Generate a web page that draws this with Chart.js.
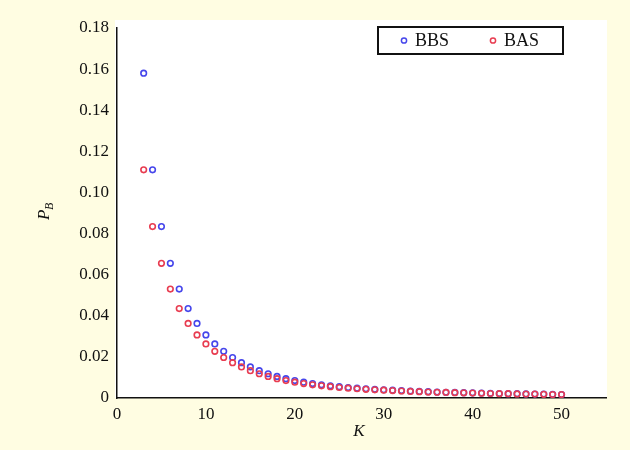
<!DOCTYPE html>
<html>
<head>
<meta charset="utf-8">
<script src="https://cdn.jsdelivr.net/npm/chart.js@4.4.0/dist/chart.umd.min.js"></script>
<style>
    html, body { margin: 0; padding: 0; background: #fffde2; }
    #wrap { width: 630px; height: 450px; }
</style>
</head>
<body>
<div id="wrap"><canvas id="pbChart" width="630" height="450"></canvas></div>
<script>
// P_B versus K

const kValues = [3, 4, 5, 6, 7, 8, 9, 10, 11, 12, 13, 14, 15, 16, 17, 18, 19, 20,
    21, 22, 23, 24, 25, 26, 27, 28, 29, 30, 31, 32, 33, 34, 35, 36, 37, 38, 39, 40,
    41, 42, 43, 44, 45, 46, 47, 48, 49, 50];

const bbsValues = [0.158, 0.111, 0.0834, 0.0655, 0.0530, 0.0435, 0.0363, 0.0307, 0.0263,
    0.0227, 0.0197, 0.0172, 0.0151, 0.0133, 0.0118, 0.0105, 0.0094, 0.0085, 0.0077,
    0.0070, 0.0064, 0.0059, 0.0055, 0.0051, 0.0048, 0.0045, 0.0042, 0.0040, 0.0038,
    0.0036, 0.0034, 0.0032, 0.0031, 0.0029, 0.0028, 0.0027, 0.0026, 0.0025, 0.0024,
    0.0023, 0.0022, 0.0021, 0.0021, 0.0020, 0.0019, 0.0019, 0.0018, 0.0017];

const basValues = [0.111, 0.0834, 0.0655, 0.0530, 0.0435, 0.0363, 0.0307, 0.0263, 0.0227,
    0.0197, 0.0172, 0.0151, 0.0133, 0.0118, 0.0105, 0.0094, 0.0085, 0.0077, 0.0070,
    0.0064, 0.0059, 0.0055, 0.0051, 0.0048, 0.0045, 0.0042, 0.0040, 0.0038, 0.0036,
    0.0034, 0.0032, 0.0031, 0.0029, 0.0028, 0.0027, 0.0026, 0.0025, 0.0024, 0.0023,
    0.0022, 0.0021, 0.0021, 0.0020, 0.0019, 0.0019, 0.0018, 0.0017, 0.0017];

const xTicks = [0, 10, 20, 30, 40, 50];
const yTicks = [0, 0.02, 0.04, 0.06, 0.08, 0.10, 0.12, 0.14, 0.16, 0.18];

const blue = 'rgb(70, 70, 235)';
const red = 'rgb(232, 60, 80)';
const serif = '"Liberation Serif", "Times New Roman", serif';

const toPoints = (xs, ys) => xs.map((x, i) => ({ x: x, y: ys[i] }));

// white plot panel behind the marks
const panelPlugin = {
    id: 'panel',
    beforeDraw(chart) {
        const { ctx, chartArea } = chart;
        ctx.save();
        ctx.fillStyle = '#ffffff';
        ctx.fillRect(chartArea.left - 2, chartArea.top - 8,
            chartArea.right - chartArea.left + 3, chartArea.bottom - chartArea.top + 8);
        ctx.restore();
    }
};

// axis titles (P with subscript B) and boxed legend
const labelPlugin = {
    id: 'labels',
    afterDraw(chart) {
        const { ctx, chartArea } = chart;
        ctx.save();
        ctx.fillStyle = '#111';
        ctx.textBaseline = 'middle';

        ctx.font = 'italic 17px ' + serif;
        ctx.textAlign = 'center';
        ctx.fillText('K', 359, 432);

        ctx.translate(45, 212);
        ctx.rotate(-Math.PI / 2);
        ctx.textAlign = 'left';
        ctx.fillText('P', -8, 0);
        ctx.font = 'italic 12px ' + serif;
        ctx.fillText('B', 2, 5);
        ctx.restore();

        // legend
        const bx = 378, by = 27, bw = 185, bh = 27;
        ctx.save();
        ctx.fillStyle = '#ffffff';
        ctx.fillRect(bx, by, bw, bh);
        ctx.strokeStyle = '#111';
        ctx.lineWidth = 2;
        ctx.strokeRect(bx, by, bw, bh);
        const items = [
            { ds: chart.data.datasets[1], x: 404 },
            { ds: chart.data.datasets[0], x: 493 }
        ];
        items.forEach(it => {
            ctx.beginPath();
            ctx.arc(it.x, by + bh / 2, 2.6, 0, Math.PI * 2);
            ctx.strokeStyle = it.ds.borderColor;
            ctx.lineWidth = 1.5;
            ctx.stroke();
            ctx.fillStyle = '#111';
            ctx.font = '18px ' + serif;
            ctx.textAlign = 'left';
            ctx.textBaseline = 'middle';
            ctx.fillText(it.ds.label, it.x + 11, by + bh / 2 + 1);
        });
        ctx.restore();
    }
};

const pbData = {
    datasets: [{
        label: 'BAS',
        data: toPoints(kValues, basValues),
        borderColor: red,
        backgroundColor: 'rgba(0,0,0,0)',
        pointRadius: 2.8,
        pointBorderWidth: 1.6,
        showLine: false,
        order: 0
    },
    {
        label: 'BBS',
        data: toPoints(kValues, bbsValues),
        borderColor: blue,
        backgroundColor: 'rgba(0,0,0,0)',
        pointRadius: 2.8,
        pointBorderWidth: 1.6,
        showLine: false,
        order: 1
    }]
};

const pbConfig = {
    type: 'scatter',
    data: pbData,
    plugins: [panelPlugin, labelPlugin],
    options: {
        responsive: false,
        animation: false,
        layout: { padding: { top: 28, right: 24, left: 0, bottom: 0 } },
        plugins: {
            legend: { display: false },
            tooltip: { enabled: false }
        },
        scales: {
            x: {
                type: 'linear',
                min: 0,
                max: 55,
                afterBuildTicks: axis => { axis.ticks = xTicks.map(v => ({ value: v })); },
                afterFit: axis => { axis.height = 52; },
                grid: { display: false, drawTicks: false },
                border: { display: true, color: '#111', width: 1.5 },
                ticks: {
                    padding: 6,
                    color: '#111',
                    font: { family: serif, size: 17 },
                    maxRotation: 0,
                    callback: v => String(v)
                }
            },
            y: {
                type: 'linear',
                min: 0,
                max: 0.18,
                afterBuildTicks: axis => { axis.ticks = yTicks.map(v => ({ value: v })); },
                afterFit: axis => { axis.width = 117; },
                grid: { display: false, drawTicks: false },
                border: { display: true, color: '#111', width: 1.5 },
                ticks: {
                    padding: 8,
                    color: '#111',
                    font: { family: serif, size: 17 },
                    callback: v => v === 0 ? '0' : v.toFixed(2)
                }
            }
        }
    }
};

const pbChart = new Chart(
    document.getElementById('pbChart'),
    pbConfig
);
</script>
</body>
</html>
